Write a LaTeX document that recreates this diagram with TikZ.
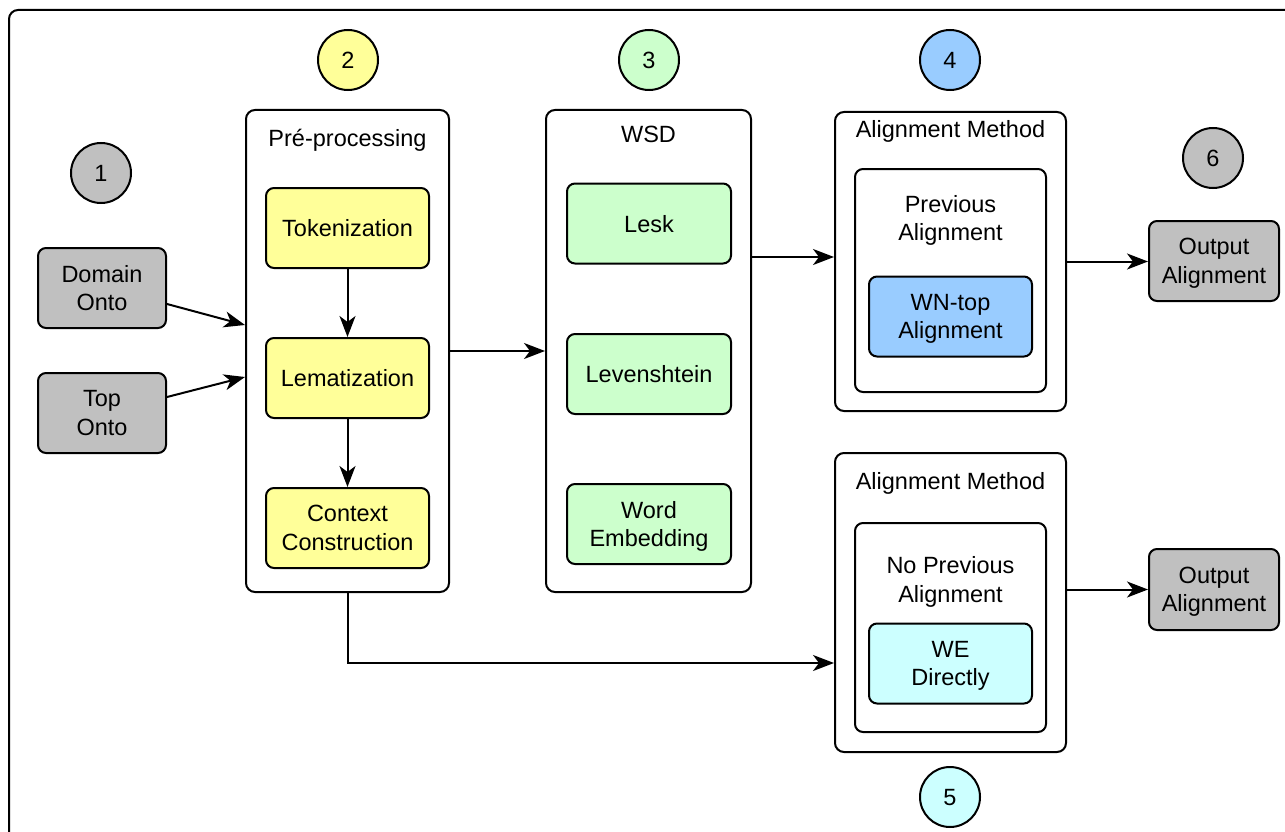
\documentclass[tikz,border=0pt]{standalone}
\usepackage{fontspec}
\setmainfont{Liberation Sans}
\usetikzlibrary{arrows.meta,calc}
\definecolor{cgray}{HTML}{C0C0C0}
\definecolor{cyel}{HTML}{FFFF99}
\definecolor{cgreen}{HTML}{CCFFCC}
\definecolor{cblue}{HTML}{99CCFF}
\definecolor{ccyan}{HTML}{CCFFFF}
\begin{document}
\begin{tikzpicture}[x=1pt,y=-1pt,
  every node/.style={font=\fontsize{23.5}{28.5}\selectfont, text=black, text depth=-3.5pt},
  box/.style={draw, line width=2pt, rounded corners=8pt, align=center, inner sep=0pt},
  smallbox/.style={box, minimum width=163pt, minimum height=80pt},
  srcbox/.style={box, fill=cgray, minimum width=128pt, minimum height=80pt},
  container/.style={draw, line width=2pt, rounded corners=9pt, inner sep=0pt},
  numcirc/.style={draw, circle, line width=2pt, minimum size=60pt, inner sep=0pt},
  arr/.style={line width=2pt, -{Stealth[length=21pt, width=16pt, inset=6pt]}},
  title/.style={inner sep=0pt, anchor=center}
]
\useasboundingbox (0,0) rectangle (1285,832);
\begin{scope}
\clip (0,0) rectangle (1285,832);
\draw[line width=2pt, rounded corners=9pt] (9,10) rectangle (1320,870);
\end{scope}

% numbered circles
\node[numcirc, fill=cgray]  (c1) at (101,173) {1};
\node[numcirc, fill=cyel]   (c2) at (348,60)  {2};
\node[numcirc, fill=cgreen] (c3) at (649,60)  {3};
\node[numcirc, fill=cblue]  (c4) at (950,60)  {4};
\node[numcirc, fill=ccyan]  (c5) at (950,797) {5};
\node[numcirc, fill=cgray]  (c6) at (1213,158) {6};

% sources
\node[srcbox] (dom) at (102,288) {Domain\\Onto};
\node[srcbox] (top) at (102,413) {Top\\Onto};

% pre-processing container
\node[container, minimum width=203pt, minimum height=482pt] (pre) at (347.5,351) {};
\node[title] (pret) at (347.5,138) {Pré-processing};
\node[smallbox, fill=cyel] (tok) at (347.5,228) {Tokenization};
\node[smallbox, fill=cyel] (lem) at (347.5,378) {Lematization};
\node[smallbox, fill=cyel] (ctx) at (347.5,528) {Context\\Construction};

% WSD container
\node[container, minimum width=205pt, minimum height=482pt] (wsd) at (648.5,351) {};
\node[title] (wsdt) at (648.5,134) {WSD};
\node[smallbox, fill=cgreen, minimum width=164pt] (lesk) at (649,223.5) {Lesk};
\node[smallbox, fill=cgreen, minimum width=164pt] (lev)  at (649,374) {Levenshtein};
\node[smallbox, fill=cgreen, minimum width=164pt] (we)   at (649,524) {Word\\Embedding};

% alignment method 1
\node[container, minimum width=231pt, minimum height=299pt] (am1) at (950.5,261.5) {};
\node[title] (am1t) at (950.5,128.5) {Alignment Method};
\node[container, rounded corners=8pt, minimum width=191pt, minimum height=223pt] (in1) at (950.5,280.5) {};
\node[title, align=center] (prev) at (950.5,218) {Previous\\Alignment};
\node[smallbox, fill=cblue] (wn) at (950.5,316.5) {WN-top\\Alignment};

% alignment method 2
\node[container, minimum width=231pt, minimum height=299pt] (am2) at (950.5,602.5) {};
\node[title] (am2t) at (950.5,480.5) {Alignment Method};
\node[container, rounded corners=8pt, minimum width=191pt, minimum height=209pt] (in2) at (950.5,627.5) {};
\node[title, align=center] (noprev) at (950.5,579.5) {No Previous\\Alignment};
\node[smallbox, fill=ccyan] (wed) at (950.5,663.5) {WE\\Directly};

% outputs
\node[box, fill=cgray, minimum width=130pt, minimum height=80pt] (out1) at (1214,261) {Output\\Alignment};
\node[box, fill=cgray, minimum width=130pt, minimum height=81pt] (out2) at (1214,589.5) {Output\\Alignment};

% connector anchors
\coordinate (am1in) at ([yshift=4.5pt]am1.west);
\coordinate (am2in) at ([yshift=-60.5pt]am2.west);

% connectors
\draw[arr] ([yshift=-16pt]dom.east) -- ([yshift=26pt]pre.west);
\draw[arr] ([yshift=16pt]top.east) -- ([yshift=-26pt]pre.west);
\draw[arr] (tok.south) -- (lem.north);
\draw[arr] (lem.south) -- (ctx.north);
\draw[arr] (pre.east) -- (wsd.west);
\draw[arr] (wsd.east |- am1in) -- (am1in);
\draw[arr] (am1.east) -- (am1.east -| out1.west);
\draw[arr] (pre.south) |- (am2in);
\draw[arr] (am2.east |- out2.west) -- (out2.west);
\end{tikzpicture}
\end{document}
